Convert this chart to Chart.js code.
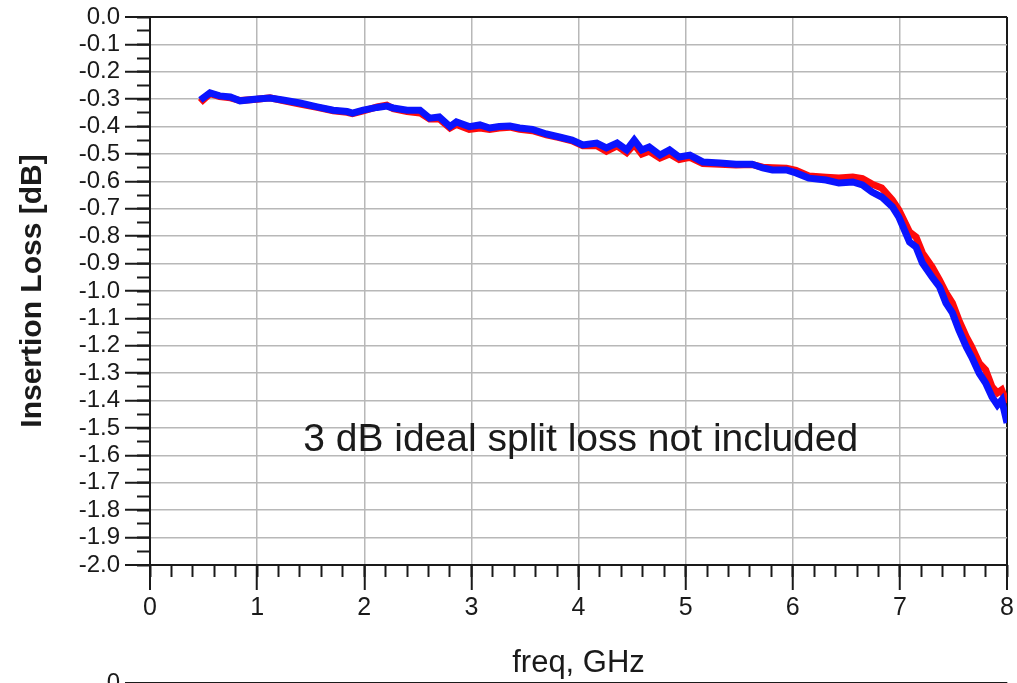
<!DOCTYPE html>
<html><head><meta charset="utf-8">
<script src="https://cdn.jsdelivr.net/npm/chart.js@4/dist/chart.umd.min.js"></script>
<style>
html,body{margin:0;padding:0;background:#fff;overflow:hidden;width:1017px;height:683px;position:relative;}
#c1{position:absolute;left:0;top:0;}
#c2{position:absolute;left:0;top:666px;}
</style></head><body>
<canvas id="c1" width="1017" height="683"></canvas>
<canvas id="c2" width="1017" height="200"></canvas>
<script>
// ---- data ----
const freqGHz = [0.47,0.56,0.65,0.75,0.84,1.0,1.12,1.24,1.4,1.56,1.71,1.84,1.89,1.99,2.12,2.21,2.27,2.4,2.52,2.61,2.7,2.8,2.86,2.98,3.08,3.17,3.26,3.36,3.45,3.57,3.7,3.82,3.94,4.04,4.17,4.26,4.36,4.45,4.52,4.59,4.66,4.76,4.85,4.94,5.04,5.16,5.32,5.47,5.62,5.72,5.81,5.94,6.03,6.15,6.31,6.43,6.56,6.65,6.74,6.83,6.93,6.99,7.09,7.15,7.21,7.3,7.37,7.43,7.49,7.55,7.62,7.67,7.74,7.8,7.86,7.91,7.95,8.0];
const lossBlue = [-0.303,-0.277,-0.288,-0.292,-0.306,-0.299,-0.296,-0.303,-0.314,-0.328,-0.34,-0.345,-0.351,-0.34,-0.33,-0.325,-0.332,-0.34,-0.34,-0.369,-0.365,-0.40,-0.383,-0.40,-0.394,-0.405,-0.40,-0.398,-0.405,-0.41,-0.427,-0.438,-0.449,-0.467,-0.46,-0.478,-0.46,-0.485,-0.449,-0.485,-0.474,-0.504,-0.485,-0.511,-0.504,-0.529,-0.533,-0.537,-0.537,-0.551,-0.558,-0.558,-0.569,-0.588,-0.595,-0.606,-0.602,-0.613,-0.639,-0.657,-0.693,-0.73,-0.821,-0.839,-0.898,-0.949,-0.985,-1.044,-1.08,-1.142,-1.204,-1.241,-1.30,-1.336,-1.387,-1.416,-1.398,-1.482];
const lossRed = [-0.312,-0.28,-0.29,-0.295,-0.305,-0.30,-0.295,-0.305,-0.318,-0.33,-0.342,-0.348,-0.353,-0.343,-0.328,-0.322,-0.335,-0.345,-0.35,-0.372,-0.372,-0.405,-0.392,-0.41,-0.405,-0.41,-0.405,-0.402,-0.41,-0.415,-0.43,-0.44,-0.452,-0.47,-0.47,-0.49,-0.47,-0.495,-0.465,-0.50,-0.49,-0.515,-0.50,-0.52,-0.512,-0.535,-0.537,-0.54,-0.538,-0.548,-0.55,-0.552,-0.56,-0.58,-0.585,-0.588,-0.584,-0.59,-0.61,-0.624,-0.668,-0.704,-0.785,-0.803,-0.861,-0.912,-0.96,-1.007,-1.044,-1.106,-1.168,-1.204,-1.263,-1.288,-1.35,-1.372,-1.361,-1.409];
const yMin = -2.0, yMax = 0.0, yStep = 0.1, yMinorStep = 0.05;
const xMin = 0, xMax = 8, xStep = 1, xMinorStep = 0.2;
const xTitle = 'freq, GHz';
const yTitle = 'Insertion Loss [dB]';
const noteText = '3 dB ideal split loss not included';

const FONT = '"Liberation Sans", Arial, sans-serif';
const GRID = '#b8b8b8';
const INK = '#1a1a1a';

const toPts = ys => freqGHz.map((f, i) => ({x: f, y: ys[i]}));

const notePlugin = {
  id: 'note',
  afterDatasetsDraw(chart) {
    const {ctx} = chart;
    const xs = chart.scales.x, ys = chart.scales.y;
    ctx.save();
    ctx.font = '39px ' + FONT;
    ctx.fillStyle = INK;
    ctx.textAlign = 'center';
    ctx.textBaseline = 'middle';
    ctx.fillText(noteText, xs.getPixelForValue(4.02), ys.getPixelForValue(-1.546));
    ctx.restore();
  }
};

const edgeColor = (lo, hi) => c => (c.tick && (Math.abs(c.tick.value - lo) < 1e-9 || Math.abs(c.tick.value - hi) < 1e-9)) ? INK : GRID;
const edgeWidth = (lo, hi) => c => (c.tick && (Math.abs(c.tick.value - lo) < 1e-9 || Math.abs(c.tick.value - hi) < 1e-9)) ? 2 : 1.5;

new Chart(document.getElementById('c1'), {
  type: 'line',
  data: {
    datasets: [
      {label: 'blue', data: toPts(lossBlue), borderColor: '#0a14ff', borderWidth: 7, pointRadius: 0, tension: 0, borderJoinStyle: 'miter'},
      {label: 'red', data: toPts(lossRed), borderColor: '#ff0a0a', borderWidth: 7, pointRadius: 0, tension: 0, borderJoinStyle: 'miter'}
    ]
  },
  options: {
    responsive: false, animation: false, devicePixelRatio: 1,
    layout: {padding: {top: 17, right: 9, left: 0, bottom: 0}},
    plugins: {legend: {display: false}, tooltip: {enabled: false}},
    scales: {
      x: {
        type: 'linear', position: 'bottom', weight: 1, min: xMin, max: xMax,
        ticks: {stepSize: xStep, autoSkip: false, maxRotation: 0, font: {family: FONT, size: 25}, color: INK, padding: 3},
        grid: {color: edgeColor(xMin, xMax), lineWidth: edgeWidth(xMin, xMax), tickColor: INK, tickWidth: 2, tickLength: 25},
        border: {color: INK, width: 2},
        title: {display: true, text: xTitle, font: {family: FONT, size: 31}, color: INK, padding: {top: 0, bottom: 1}},
        afterFit(s) { s.height = 118; }
      },
      xm: {
        type: 'linear', position: 'bottom', weight: 0, min: xMin, max: xMax,
        ticks: {display: false, stepSize: xMinorStep, autoSkip: false, maxTicksLimit: 100},
        grid: {drawOnChartArea: false, tickColor: INK, tickWidth: 2, tickLength: 12},
        border: {display: false},
        afterFit(s) { s.height = 0; }
      },
      y: {
        type: 'linear', position: 'left', weight: 1, min: yMin, max: yMax,
        ticks: {stepSize: yStep, autoSkip: false, maxTicksLimit: 100, font: {family: FONT, size: 24, lineHeight: 1}, color: INK, padding: 5,
          callback: v => v.toFixed(1)},
        grid: {color: edgeColor(yMin, yMax), lineWidth: edgeWidth(yMin, yMax), tickColor: INK, tickWidth: 2, tickLength: 25},
        border: {color: INK, width: 2},
        title: {display: true, text: yTitle, font: {family: FONT, size: 30, weight: 'bold'}, color: INK, padding: {top: 15, bottom: 0}},
        afterFit(s) { s.width = 150; }
      },
      ym: {
        type: 'linear', position: 'left', weight: 0, min: yMin, max: yMax,
        ticks: {display: false, stepSize: yMinorStep, autoSkip: false, maxTicksLimit: 100},
        grid: {drawOnChartArea: false, tickColor: INK, tickWidth: 2, tickLength: 13},
        border: {display: false},
        afterFit(s) { s.width = 0; }
      }
    }
  },
  plugins: [notePlugin]
});

// second (lower) chart, only its top edge is visible in the window
new Chart(document.getElementById('c2'), {
  type: 'line',
  data: {datasets: []},
  options: {
    responsive: false, animation: false, devicePixelRatio: 1,
    layout: {padding: {top: 12, right: 9, left: 0, bottom: 0}},
    plugins: {legend: {display: false}, tooltip: {enabled: false}},
    scales: {
      x: {
        type: 'linear', display: true, position: 'bottom', min: xMin, max: xMax,
        ticks: {stepSize: xStep, font: {family: FONT, size: 24}, color: INK},
        grid: {color: edgeColor(xMin, xMax), lineWidth: edgeWidth(xMin, xMax), tickColor: INK, tickWidth: 2, tickLength: 25},
        border: {color: INK, width: 2},
        afterFit(s) { s.height = 60; }
      },
      y: {
        type: 'linear', display: true, position: 'left', min: -10, max: 0,
        ticks: {stepSize: 1, autoSkip: false, font: {family: FONT, size: 24, lineHeight: 1}, color: INK, padding: 5},
        grid: {color: edgeColor(-10, 0), lineWidth: edgeWidth(-10, 0), tickColor: INK, tickWidth: 2, tickLength: 25},
        border: {color: INK, width: 2},
        afterFit(s) { s.width = 150; }
      }
    }
  }
});
</script>
</body></html>
